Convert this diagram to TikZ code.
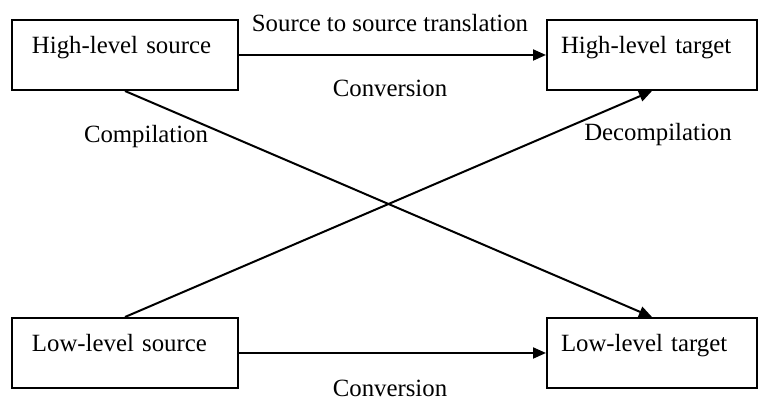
\documentclass[tikz,border=0pt]{standalone}
\usepackage{fontspec}
\setmainfont{Liberation Serif}
\usepackage{tikz}
\usetikzlibrary{arrows.meta}
\usetikzlibrary{positioning}

\begin{document}
\begin{tikzpicture}
        [x=0.5pt,y=-0.5pt,
        codebox/.style={rectangle,draw=black,line width=1pt,inner xsep=10pt,inner ysep=0pt,
                text height=17pt,text depth=18pt,align=left,anchor=north west},
        to/.style={-{Triangle[length=6.5pt,width=5.5pt]},line width=1pt},
        lbl/.style={inner sep=1pt},
        font=\fontsize{12.4}{15}\selectfont]

\useasboundingbox (0,0) rectangle (762,399);

% boxes
\node[codebox,text width=93pt] at (11,19) (hlsrc) {High-level source};

\node[codebox,text width=91pt,inner xsep=7pt] at (546,19) (hltgt) {High-level target};

\node[codebox,text width=93pt] at (11,317) (llsrc) {Low-level source};

\node[codebox,text width=91pt,inner xsep=7pt] at (546,317) (lltgt) {Low-level target};

% labels
\node[lbl] at (390,23) (s2s) {Source to source translation};
\node[lbl] at (390,88) (convhigh) {Conversion};
\node[lbl] at (146,137) (comp) {Compilation};
\node[lbl] at (658,135) (decomp) {Decompilation};
\node[lbl] at (390,388) (convlow) {Conversion};

%arrows
\draw[to] (hlsrc) -- (hltgt);
\draw[to] (llsrc) -- (lltgt);
\draw[to] (hlsrc.south) -- (lltgt.north);
\draw[to] (llsrc.north) -- (hltgt.south);

\end{tikzpicture}
\end{document}
